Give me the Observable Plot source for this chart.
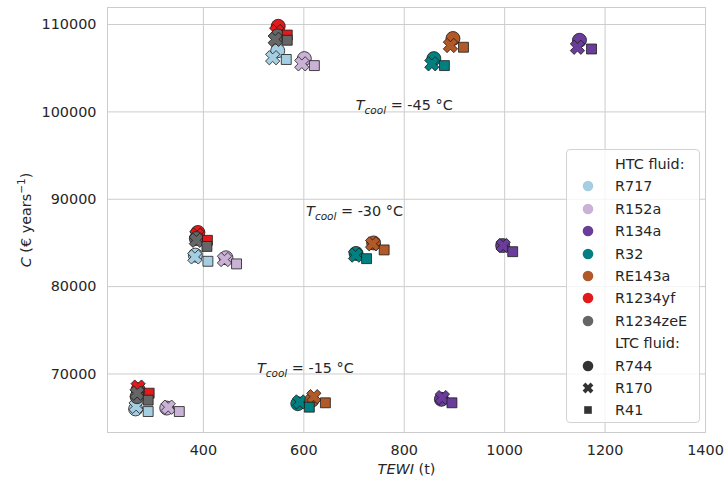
<!DOCTYPE html>
<html>
<head>
<meta charset="utf-8">
<script src="https://cdn.jsdelivr.net/npm/d3@7"></script>
<script src="https://cdn.jsdelivr.net/npm/@observablehq/plot@0.6"></script>
<style>
  body { margin: 0; background: #fff; font-family: "DejaVu Sans", sans-serif; }
  #wrap { position: relative; width: 727px; height: 482px; }
  #legend { position: absolute; left: 566px; top: 149px; width: 134px; height: 274px;
    border: 1px solid #d3d3d3; border-radius: 4px; background: rgba(255,255,255,0.8);
    box-sizing: border-box; font-family: "DejaVu Sans", sans-serif; font-size: 14.4px; color: #262626; }
  .lrow { position: absolute; left: 0; width: 130px; height: 22px; }
  .lrow svg { position: absolute; left: 10px; top: 0; }
  .lrow span { position: absolute; left: 48px; top: 50%; transform: translateY(-50%); white-space: nowrap; line-height: 1; }
</style>
</head>
<body>
<div id="wrap"><div id="chart"></div><div id="legend"></div></div>
<script>
// ---- Data ----
const htcFluids = ["R717", "R152a", "R134a", "R32", "RE143a", "R1234yf", "R1234zeE"];
const htcColors = ["#a6cee3", "#cab2d6", "#6a3d9a", "#008080", "#b15928", "#e31a1c", "#666666"];
const ltcFluids = ["R744", "R170", "R41"];

// Tcool = -45 °C (values in HTC order)
const tewiR744_m45 = [548, 601, 1149, 859, 897, 549, 548];
const costR744_m45 = [107000, 106100, 108200, 106100, 108400, 109800, 108700];
const tewiR170_m45 = [538, 596, 1145, 855, 892, 546, 543];
const costR170_m45 = [106200, 105500, 107400, 105500, 107600, 109200, 108300];
const tewiR41_m45 = [565, 621, 1173, 880, 918, 567, 567];
const costR41_m45 = [106000, 105300, 107200, 105300, 107400, 108800, 108200];

// Tcool = -30 °C
const tewiR744_m30 = [384, 445, 996, 704, 739, 389, 386];
const costR744_m30 = [83600, 83300, 84700, 83800, 85000, 86200, 85500];
const tewiR170_m30 = [383, 442, 997, 703, 737, 387, 386];
const costR170_m30 = [83400, 83100, 84700, 83600, 84900, 85900, 85300];
const tewiR41_m30 = [409, 466, 1016, 725, 760, 408, 407];
const costR41_m30 = [82900, 82600, 84000, 83200, 84200, 85300, 84600];

// Tcool = -15 °C
const tewiR744_m15 = [265, 327, 874, 588, 616, 270, 268];
const costR744_m15 = [66000, 66100, 67100, 66600, 67000, 68200, 67400];
const tewiR170_m15 = [266, 330, 876, 592, 620, 270, 268];
const costR170_m15 = [66300, 66200, 67300, 66800, 67400, 68500, 67800];
const tewiR41_m15 = [290, 352, 895, 611, 643, 292, 290];
const costR41_m15 = [65700, 65700, 66700, 66200, 66700, 67800, 67000];

// Annotations
const annoLabels = ["T_cool = -45 °C", "T_cool = -30 °C", "T_cool = -15 °C"];
const annoTewi = [800, 701, 603];
const annoCost = [100700, 88600, 70600];

// Ticks
const xTicks = [400, 600, 800, 1000, 1200, 1400];
const yTicks = [70000, 80000, 90000, 100000, 110000];

// ---- Build rows ----
const sets = [
  ["R744", tewiR744_m45, costR744_m45], ["R170", tewiR170_m45, costR170_m45], ["R41", tewiR41_m45, costR41_m45],
  ["R744", tewiR744_m30, costR744_m30], ["R170", tewiR170_m30, costR170_m30], ["R41", tewiR41_m30, costR41_m30],
  ["R744", tewiR744_m15, costR744_m15], ["R170", tewiR170_m15, costR170_m15], ["R41", tewiR41_m15, costR41_m15]
];
const rows = [];
htcFluids.forEach((htc, i) => {
  sets.forEach(([ltc, xs, ys]) => rows.push({htc, ltc, tewi: xs[i], cost: ys[i]}));
});
rows.sort((a, b) => htcFluids.indexOf(a.htc) - htcFluids.indexOf(b.htc) || ltcFluids.indexOf(a.ltc) - ltcFluids.indexOf(b.ltc));
const annos = annoLabels.map((label, i) => ({label, tewi: annoTewi[i], cost: annoCost[i]}));

// Filled "X" symbol
const symbolX = {
  draw(ctx, size) {
    const a = Math.sqrt(size) * 0.6, b = a * 0.36;
    const pts = [[b,a],[b,b],[a,b],[a,-b],[b,-b],[b,-a],[-b,-a],[-b,-b],[-a,-b],[-a,b],[-b,b],[-b,a]]
      .map(([x, y]) => [(x - y) / Math.SQRT2, (x + y) / Math.SQRT2]);
    ctx.moveTo(pts[0][0], pts[0][1]);
    for (let k = 1; k < pts.length; k++) ctx.lineTo(pts[k][0], pts[k][1]);
    ctx.closePath();
  }
};
const ltcSymbols = [d3.symbolCircle, symbolX, d3.symbolSquare];
const rMap = {R744: 7, R170: 7, R41: 5.6};

const chart = Plot.plot({
  width: 727, height: 482,
  marginLeft: 107, marginRight: 22, marginTop: 7, marginBottom: 50,
  style: {fontFamily: "DejaVu Sans", fontSize: "14.4px", color: "#262626", background: "white"},
  x: {domain: [209, 1400]},
  y: {domain: [63300, 111950]},
  color: {domain: htcFluids, range: htcColors},
  symbol: {domain: ltcFluids, range: ltcSymbols},
  r: {type: "identity"},
  marks: [
    Plot.gridX(xTicks, {stroke: "#cccccc", strokeOpacity: 1, strokeWidth: 1}),
    Plot.gridY(yTicks, {stroke: "#cccccc", strokeOpacity: 1, strokeWidth: 1}),
    Plot.frame({stroke: "#cccccc", strokeWidth: 1}),
    Plot.axisX(xTicks, {tickSize: 0, tickPadding: 12, tickFormat: "d", fontSize: 14.4,
      label: "TEWI (t)", labelAnchor: "center", labelOffset: 41, labelArrow: "none"}),
    Plot.axisY(yTicks, {tickSize: 0, tickPadding: 11, tickFormat: "d", fontSize: 14.4,
      label: "C (€ years-1)", labelAnchor: "center", labelOffset: 87, labelArrow: "none"}),
    Plot.dot(rows, {x: "tewi", y: "cost", fill: "htc", symbol: "ltc", r: d => rMap[d.ltc],
      stroke: "#1a1a1a", strokeWidth: 0.8}),
    Plot.text(annos, {x: "tewi", y: "cost", text: "label", fill: "#262626", fontSize: 14.4, textAnchor: "middle"})
  ]
});
document.getElementById("chart").appendChild(chart);

// ---- Rich text post-processing ----
chart.querySelectorAll("text").forEach(t => {
  const s = t.textContent;
  if (s.startsWith("T_cool")) {
    const rest = s.slice(6);
    t.innerHTML = `<tspan font-style="italic">T</tspan><tspan font-style="italic" font-size="10.5" dy="4">cool</tspan><tspan dy="-4">${rest}</tspan>`;
  } else if (s.startsWith("TEWI")) {
    t.innerHTML = `<tspan font-style="italic">TEWI</tspan><tspan> (t)</tspan>`;
  } else if (s.startsWith("C (€")) {
    t.innerHTML = `<tspan font-style="italic">C</tspan><tspan> (€ years</tspan><tspan font-size="10.5" dy="-6">−1</tspan><tspan dy="6">)</tspan>`;
  }
});

// ---- Legend ----
const legend = document.getElementById("legend");
const rowH = 22.4;
const entries = [{head: "HTC fluid:"}]
  .concat(htcFluids.map((f, i) => ({label: f, color: htcColors[i], sym: d3.symbolCircle, r: 5.3})))
  .concat([{head: "LTC fluid:"}])
  .concat(ltcFluids.map((f, i) => ({label: f, color: "#333333", sym: ltcSymbols[i], r: i === 2 ? 4.3 : 5.3})));
entries.forEach((e, i) => {
  const row = document.createElement("div");
  row.className = "lrow";
  row.style.top = (14 + rowH * i - 11) + "px";
  if (e.label) {
    const path = d3.symbol(e.sym, e.r * e.r * Math.PI)();
    row.innerHTML = `<svg width="22" height="22"><path transform="translate(11,11)" d="${path}" fill="${e.color}"></path></svg><span>${e.label}</span>`;
  } else {
    row.innerHTML = `<span>${e.head}</span>`;
  }
  legend.appendChild(row);
});
</script>
</body>
</html>
